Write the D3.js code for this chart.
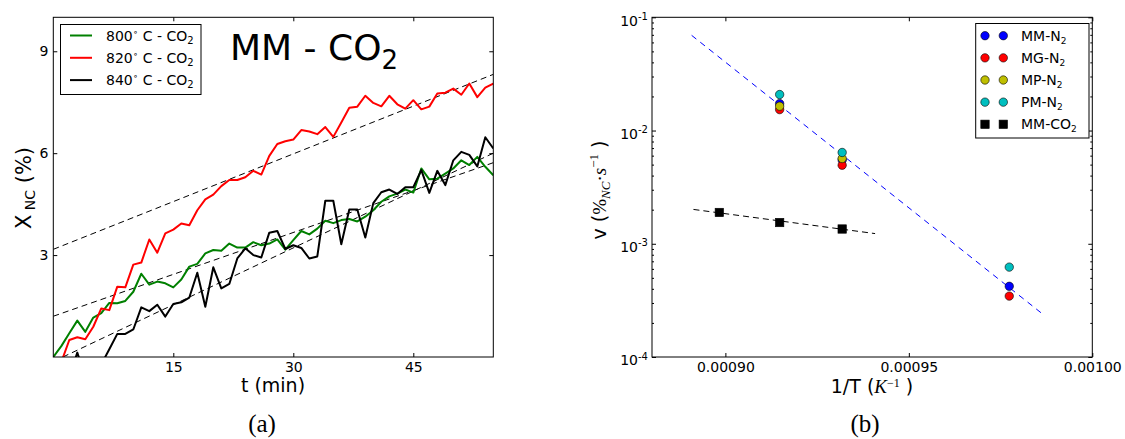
<!DOCTYPE html>
<html>
<head>
<meta charset="utf-8">
<script src="https://cdn.jsdelivr.net/npm/d3@7"></script>
<style>
  html, body { margin: 0; padding: 0; background: #fff; }
  svg { display: block; font-family: "DejaVu Sans", sans-serif; }
</style>
</head>
<body>
<svg id="chart" width="1125" height="439"></svg>
<script>
// ---------------- DATA: panel (a) ----------------
const timeMin = [0,1,2,3,4,5,6,7,8,9,10,11,12,13,14,15,16,17,18,19,20,21,22,23,24,25,26,27,28,29,30,31,32,33,34,35,36,37,38,39,40,41,42,43,44,45,46,47,48,49,50,51,52,53,54,55];
const x800 = [0,0.32,0.70,1.07,0.74,1.16,1.29,1.59,1.58,1.65,1.92,2.45,2.13,2.22,2.17,2.05,2.28,2.66,2.74,3.05,3.15,3.13,3.34,3.22,3.22,3.38,3.29,3.34,3.46,3.16,3.44,3.71,3.61,3.78,4.01,3.94,4.03,4.06,3.99,4.13,4.32,4.57,4.73,4.81,4.93,4.84,5.55,5.23,5.25,5.40,5.55,5.79,5.65,5.89,5.60,5.35];
const x820 = [null,-0.15,0.50,0.58,0.52,0.89,1.43,1.38,2.07,2.05,2.72,2.78,3.46,3.07,3.64,3.75,3.93,3.88,4.32,4.64,4.78,5.03,5.21,5.21,5.29,5.48,5.37,5.92,6.27,6.35,6.40,6.68,6.64,6.56,6.77,6.48,6.90,7.34,7.37,7.69,7.48,7.38,7.69,7.44,7.31,7.56,7.29,7.37,7.76,7.78,7.90,7.72,8.05,7.65,7.93,8.05];
const x840 = [null,-0.70,-0.60,0.13,-0.60,-0.55,-0.22,0.23,0.68,0.68,0.81,1.46,1.35,1.54,1.19,1.56,1.61,1.75,2.48,1.48,2.64,2.02,2.15,2.90,3.20,3.00,2.93,3.66,3.71,3.18,3.29,3.21,2.90,2.96,4.60,4.60,3.32,4.34,4.34,3.52,4.53,4.85,4.93,4.80,5.00,5.00,5.50,4.83,5.48,5.06,5.79,6.04,5.95,5.61,6.47,6.14];
// fitted straight lines (end points: [t, X])
const fit800 = [[0,1.20],[55,5.72]];
const fit820 = [[0,3.17],[55,8.32]];
const fit840 = [[1.2,0.0],[55,6.00]];
const seriesA = [
  {label:"800", values:x800, color:"#008000"},
  {label:"820", values:x820, color:"#ff0000"},
  {label:"840", values:x840, color:"#000000"}
];
const xTicksA = [15,30,45];
const yTicksA = [3,6,9];

// ---------------- DATA: panel (b) ----------------
const invT = [0.00089835, 0.00091479, 0.00093183, 0.00097737];
const vMM_N2  = [null, 0.0173, 0.0055, 0.000421];
const vMG_N2  = [null, 0.0153, 0.00494, 0.000345];
const vMP_N2  = [null, 0.0164, 0.00566, null];
const vPM_N2  = [null, 0.0208, 0.0064, 0.000622];
const vMM_CO2 = [0.00189, 0.00154, 0.00135, null];
const fitN2  = [[0.0008908,0.0693],[0.000987,0.000232]];
const fitCO2 = [[0.0008913,0.00201],[0.0009408,0.00123]];
const seriesB = [
  {gas:"2", base:"MM-N", values:vMM_N2, color:"#0000ff", shape:"circle"},
  {gas:"2", base:"MG-N", values:vMG_N2, color:"#ff0000", shape:"circle"},
  {gas:"2", base:"MP-N", values:vMP_N2, color:"#bfbf00", shape:"circle"},
  {gas:"2", base:"PM-N", values:vPM_N2, color:"#00bfbf", shape:"circle"},
  {gas:"2", base:"MM-CO", values:vMM_CO2, color:"#000000", shape:"square"}
];
const xTicksB = [0.00090, 0.00095, 0.00100];
const yMajorB = [1e-4, 1e-3, 1e-2, 1e-1];

// ---------------- DRAW ----------------
const svg = d3.select("#chart");
const TICK_FONT = 14;

// ===== Panel (a) =====
const A = {l:53.3, r:493.3, t:17.3, b:357};
const xA = d3.scaleLinear().domain([0,55]).range([A.l, A.r]);
const yA = d3.scaleLinear().domain([0,10]).range([A.b, A.t]);

svg.append("clipPath").attr("id","clipA").append("rect")
  .attr("x",A.l).attr("y",A.t).attr("width",A.r-A.l).attr("height",A.b-A.t);

const gA = svg.append("g");
const lineA = d3.line().defined(d => d[1] !== null).x(d => xA(d[0])).y(d => yA(d[1]));

[fit800, fit820, fit840].forEach(f => {
  gA.append("path").attr("d", lineA(f)).attr("fill","none")
    .attr("stroke","#000").attr("stroke-width",1).attr("stroke-dasharray","6,4")
    .attr("clip-path","url(#clipA)");
});
seriesA.forEach(s => {
  gA.append("path").attr("d", lineA(timeMin.map((t,i)=>[t, s.values[i]])))
    .attr("fill","none").attr("stroke",s.color).attr("stroke-width",2)
    .attr("stroke-linejoin","round").attr("clip-path","url(#clipA)");
});

function styleAxis(g){
  g.select(".domain").remove();
  g.selectAll("line").attr("stroke","#000").attr("stroke-width",1);
  g.selectAll("text").attr("font-size",TICK_FONT).attr("fill","#000")
    .attr("font-family","DejaVu Sans, sans-serif");
}
svg.append("g").attr("transform",`translate(0,${A.b})`)
  .call(d3.axisBottom(xA).tickValues(xTicksA).tickSize(-4).tickSizeOuter(0).tickPadding(5)).call(styleAxis);
svg.append("g").attr("transform",`translate(0,${A.t})`)
  .call(d3.axisTop(xA).tickValues(xTicksA).tickSize(-4).tickSizeOuter(0).tickFormat("")).call(styleAxis);
svg.append("g").attr("transform",`translate(${A.l},0)`)
  .call(d3.axisLeft(yA).tickValues(yTicksA).tickSize(-4).tickSizeOuter(0).tickPadding(5)).call(styleAxis);
svg.append("g").attr("transform",`translate(${A.r},0)`)
  .call(d3.axisRight(yA).tickValues(yTicksA).tickSize(-4).tickSizeOuter(0).tickFormat("")).call(styleAxis);
svg.append("rect").attr("x",A.l).attr("y",A.t).attr("width",A.r-A.l).attr("height",A.b-A.t)
  .attr("fill","none").attr("stroke","#000").attr("stroke-width",1);

// title
const title = svg.append("text").attr("x",230).attr("y",60).attr("font-size",36).attr("fill","#000");
title.append("tspan").text("MM - CO");
title.append("tspan").attr("font-size",26).attr("dy",9).text("2");

// legend (a)
const legA = svg.append("g");
legA.append("rect").attr("x",60.5).attr("y",24.5).attr("width",140.5).attr("height",70)
  .attr("fill","#fff").attr("stroke","#000").attr("stroke-width",1);
seriesA.forEach((s,i) => {
  const cy = 35.5 + i*22.3;
  legA.append("line").attr("x1",70).attr("x2",92).attr("y1",cy).attr("y2",cy)
    .attr("stroke",s.color).attr("stroke-width",2);
  const t = legA.append("text").attr("x",106).attr("y",cy+5).attr("font-size",14).attr("fill","#000");
  t.append("tspan").text(s.label);
  t.append("tspan").attr("font-size",9).attr("dy",-6).text("∘");
  t.append("tspan").attr("dy",6).text(" C - CO");
  t.append("tspan").attr("font-size",10).attr("dy",3).text("2");
});

// axis labels (a)
svg.append("text").attr("x",273).attr("y",392).attr("text-anchor","middle")
  .attr("font-size",19).text("t (min)");
const ylA = svg.append("text").attr("transform","translate(31,188) rotate(-90)")
  .attr("text-anchor","middle").attr("font-size",21);
ylA.append("tspan").text("X");
ylA.append("tspan").attr("font-size",14).attr("dy",4).text(" NC");
ylA.append("tspan").attr("dy",-4).text(" (%)");
svg.append("text").attr("x",262).attr("y",432).attr("text-anchor","middle")
  .attr("font-family","Liberation Serif, serif").attr("font-size",25).text("(a)");

// ===== Panel (b) =====
const B = {l:652, r:1092.3, t:17.3, b:357};
const xB = d3.scaleLinear().domain([0.00088,0.00100]).range([B.l, B.r]);
const yB = d3.scaleLog().domain([1e-4,1e-1]).range([B.b, B.t]);

svg.append("clipPath").attr("id","clipB").append("rect")
  .attr("x",B.l).attr("y",B.t).attr("width",B.r-B.l).attr("height",B.b-B.t);
const lineB = d3.line().x(d => xB(d[0])).y(d => yB(d[1]));
svg.append("path").attr("d",lineB(fitN2)).attr("fill","none").attr("stroke","#0000ff")
  .attr("stroke-width",1).attr("stroke-dasharray","6,5").attr("clip-path","url(#clipB)");
svg.append("path").attr("d",lineB(fitCO2)).attr("fill","none").attr("stroke","#000")
  .attr("stroke-width",1).attr("stroke-dasharray","6,4").attr("clip-path","url(#clipB)");

function drawMarker(g, shape, cx, cy, color){
  if (shape === "circle") {
    g.append("circle").attr("cx",cx).attr("cy",cy).attr("r",4.2)
      .attr("fill",color).attr("stroke","#000").attr("stroke-width",0.6);
  } else {
    g.append("rect").attr("x",cx-4.2).attr("y",cy-4.2).attr("width",8.4).attr("height",8.4)
      .attr("fill",color).attr("stroke","#000").attr("stroke-width",0.6);
  }
}
const gB = svg.append("g");
seriesB.forEach(s => {
  invT.forEach((x,i) => {
    if (s.values[i] !== null) drawMarker(gB, s.shape, xB(x), yB(s.values[i]), s.color);
  });
});

const minorB = [];
for (let e = -4; e < -1; e++) for (let m = 2; m <= 9; m++) minorB.push(m * Math.pow(10, e));

svg.append("g").attr("transform",`translate(0,${B.b})`)
  .call(d3.axisBottom(xB).tickValues(xTicksB).tickSize(-4).tickSizeOuter(0).tickPadding(5)
    .tickFormat(d3.format(".5f"))).call(styleAxis);
svg.append("g").attr("transform",`translate(0,${B.t})`)
  .call(d3.axisTop(xB).tickValues(xTicksB).tickSize(-4).tickSizeOuter(0).tickFormat("")).call(styleAxis);
const yAxB = svg.append("g").attr("transform",`translate(${B.l},0)`)
  .call(d3.axisLeft(yB).tickValues(yMajorB).tickSize(-4).tickSizeOuter(0).tickPadding(4)
    .tickFormat(d => String(Math.round(Math.log10(d))))).call(styleAxis);
yAxB.selectAll("text").each(function(){
  const ex = d3.select(this).text();
  d3.select(this).text(null).attr("dy","0.55em");
  d3.select(this).append("tspan").text("10");
  d3.select(this).append("tspan").attr("font-size",10).attr("dy","-0.55em").text(ex);
});
svg.append("g").attr("transform",`translate(${B.l},0)`)
  .call(d3.axisLeft(yB).tickValues(minorB).tickSize(-2).tickSizeOuter(0).tickFormat("")).call(styleAxis);
svg.append("g").attr("transform",`translate(${B.r},0)`)
  .call(d3.axisRight(yB).tickValues(yMajorB).tickSize(-4).tickSizeOuter(0).tickFormat("")).call(styleAxis);
svg.append("g").attr("transform",`translate(${B.r},0)`)
  .call(d3.axisRight(yB).tickValues(minorB).tickSize(-2).tickSizeOuter(0).tickFormat("")).call(styleAxis);
svg.append("rect").attr("x",B.l).attr("y",B.t).attr("width",B.r-B.l).attr("height",B.b-B.t)
  .attr("fill","none").attr("stroke","#000").attr("stroke-width",1);

// legend (b)
const legB = svg.append("g");
legB.append("rect").attr("x",975.7).attr("y",23.5).attr("width",113.3).attr("height",114.5)
  .attr("fill","#fff").attr("stroke","#000").attr("stroke-width",1);
seriesB.forEach((s,i) => {
  const cy = 35.7 + i*22.15;
  drawMarker(legB, s.shape, 985, cy, s.color);
  drawMarker(legB, s.shape, 1003.3, cy, s.color);
  const t = legB.append("text").attr("x",1021).attr("y",cy+5).attr("font-size",14).attr("fill","#000");
  t.append("tspan").text(s.base);
  t.append("tspan").attr("font-size",9).attr("dy",3).text(s.gas);
});

// axis labels (b)
const xlB = svg.append("text").attr("x",872).attr("y",393).attr("text-anchor","middle").attr("font-size",19);
xlB.append("tspan").text("1/T (");
xlB.append("tspan").attr("font-family","Liberation Serif, serif").attr("font-style","italic").text("K");
xlB.append("tspan").attr("font-family","Liberation Serif, serif").attr("font-size",12).attr("dy",-6).text("−1");
xlB.append("tspan").attr("dy",6).text(" )");

const ylB = svg.append("text").attr("transform","translate(606,190) rotate(-90)")
  .attr("text-anchor","middle").attr("font-size",19);
ylB.append("tspan").text("v (");
ylB.append("tspan").attr("font-family","Liberation Serif, serif").text("%");
ylB.append("tspan").attr("font-family","Liberation Serif, serif").attr("font-style","italic")
  .attr("font-size",13).attr("dy",4).text("NC");
ylB.append("tspan").attr("font-family","Liberation Serif, serif").attr("dy",-4).text("·");
ylB.append("tspan").attr("font-family","Liberation Serif, serif").attr("font-style","italic").text("s");
ylB.append("tspan").attr("font-family","Liberation Serif, serif").attr("font-size",13).attr("dy",-8).text("−1");
ylB.append("tspan").attr("dy",8).text(" )");

svg.append("text").attr("x",865).attr("y",432).attr("text-anchor","middle")
  .attr("font-family","Liberation Serif, serif").attr("font-size",25).text("(b)");
</script>
</body>
</html>
